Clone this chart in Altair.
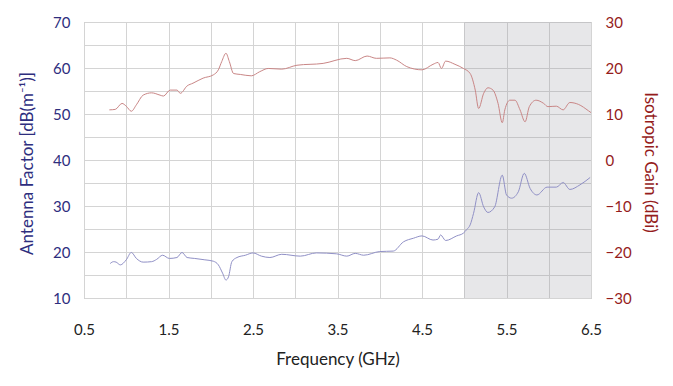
import altair as alt
import pandas as pd

# Antenna factor (left axis, dB(m^-1))
af_freq = [0.81, 0.85, 0.88, 0.93, 1.00, 1.06, 1.12, 1.20, 1.30, 1.36, 1.43, 1.51, 1.60, 1.66,
           1.72, 1.81, 1.93, 2.03, 2.09, 2.14, 2.18, 2.21, 2.25, 2.31, 2.41, 2.50, 2.60, 2.70,
           2.84, 3.06, 3.25, 3.49, 3.61, 3.71, 3.81, 4.00, 4.16, 4.28, 4.40, 4.50, 4.63, 4.69,
           4.72, 4.78, 4.91, 4.99, 5.03, 5.07, 5.11, 5.17, 5.23, 5.28, 5.36, 5.45, 5.50, 5.56,
           5.64, 5.71, 5.78, 5.86, 5.98, 6.09, 6.17, 6.25, 6.37, 6.49]
af_val = [17.5, 17.9, 17.8, 17.2, 18.3, 19.9, 18.6, 17.8, 17.9, 18.4, 19.3, 18.6, 18.8, 19.9,
          18.8, 18.6, 18.3, 18.0, 17.2, 15.4, 13.9, 14.6, 17.9, 18.8, 19.3, 19.8, 19.1, 18.8,
          19.5, 19.1, 19.8, 19.6, 19.1, 19.7, 19.3, 20.1, 20.2, 22.2, 23.0, 23.5, 22.6, 22.8,
          23.7, 22.5, 23.5, 24.1, 24.9, 25.9, 28.4, 32.9, 29.8, 28.6, 29.8, 36.7, 32.4, 31.7,
          33.1, 37.1, 33.8, 32.4, 34.1, 34.1, 35.1, 33.6, 34.6, 36.2]

# Isotropic gain (right axis, dBi)
gain_freq = [0.80, 0.87, 0.95, 1.00, 1.06, 1.12, 1.20, 1.30, 1.40, 1.44, 1.52, 1.60, 1.64,
             1.72, 1.79, 1.91, 2.03, 2.09, 2.13, 2.18, 2.22, 2.27, 2.35, 2.48, 2.58, 2.68,
             2.84, 3.02, 3.33, 3.61, 3.71, 3.85, 3.96, 4.12, 4.20, 4.32, 4.50, 4.63, 4.69,
             4.73, 4.78, 4.89, 4.99, 5.07, 5.13, 5.17, 5.23, 5.28, 5.34, 5.40, 5.45, 5.48,
             5.54, 5.60, 5.66, 5.72, 5.77, 5.85, 5.94, 5.99, 6.09, 6.17, 6.25, 6.35, 6.47, 6.50]
gain_val = [10.9, 11.0, 12.3, 11.7, 10.6, 12.0, 14.1, 14.6, 14.1, 13.9, 15.2, 15.2, 14.5,
            16.1, 16.7, 17.8, 18.5, 19.6, 21.4, 23.2, 21.4, 18.8, 18.6, 18.3, 19.2, 19.9,
            19.75, 20.6, 21.0, 22.1, 21.6, 22.6, 22.1, 22.2, 21.7, 20.3, 19.6, 20.8, 21.2,
            19.9, 21.5, 20.8, 19.9, 18.8, 15.2, 11.2, 14.5, 15.7, 15.2, 12.3, 8.1, 10.9,
            13.0, 13.0, 10.9, 8.3, 11.6, 13.0, 12.3, 11.6, 11.7, 10.9, 12.5, 12.1, 10.7, 10.3]

shade_start = [5.0]
shade_end = [6.5]

x_ticks = [0.5, 1.0, 1.5, 2.0, 2.5, 3.0, 3.5, 4.0, 4.5, 5.0, 5.5, 6.0, 6.5]
af_ticks = [10, 15, 20, 25, 30, 35, 40, 45, 50, 55, 60, 65, 70]
gain_ticks = [-30, -20, -10, 0, 10, 20, 30]

FONT = "Lato"
NAVY = "#2e2e7e"
DARKRED = "#951c1c"

af_df = pd.DataFrame({"f": af_freq, "v": af_val})
gain_df = pd.DataFrame({"f": gain_freq, "v": gain_val})
shade_df = pd.DataFrame({"x0": shade_start, "x1": shade_end})

x_scale = alt.Scale(domain=[0.5, 6.5], nice=False, zero=False)
x_axis = alt.Axis(
    values=x_ticks,
    labelExpr="(round(datum.value*2) % 2 == 1) ? format(datum.value, '.1f') : ''",
    title="Frequency (GHz)",
    grid=True, gridColor="#d4d4d4", gridWidth=1,
    ticks=False, domain=False,
    labelFont=FONT, labelFontSize=15, labelColor="#222222", labelPadding=24,
    labelFlush=False,
    titleFont=FONT, titleFontSize=17, titleFontWeight="normal", titleColor="#222222",
    titleY=61, titleBaseline="middle",
)

shade = alt.Chart(shade_df).mark_rect(color="#8c8c98", opacity=0.21).encode(
    x=alt.X("x0:Q", scale=x_scale, axis=x_axis),
    x2="x1:Q",
)

af_line = alt.Chart(af_df).mark_line(color="#9090c6", strokeWidth=1, interpolate="monotone").encode(
    x=alt.X("f:Q", scale=x_scale, axis=x_axis),
    y=alt.Y("v:Q", scale=alt.Scale(domain=[10, 70], nice=False, zero=False),
            axis=alt.Axis(
                orient="left", values=af_ticks,
                labelExpr="datum.value % 10 == 0 ? datum.label : ''",
                title="Antenna Factor [dB(m⁻¹)]",
                grid=True, gridColor="#d4d4d4", gridWidth=1,
                ticks=False, domain=False,
                labelFont=FONT, labelFontSize=15, labelColor=NAVY, labelPadding=14,
                titleFont=FONT, titleFontSize=17, titleFontWeight="normal", titleColor=NAVY,
                titleAngle=-90, titleX=-57, titleY=141, titleAlign="center",
                titleBaseline="middle",
            )),
)

gain_line = alt.Chart(gain_df).mark_line(color="#c98686", strokeWidth=1, interpolate="monotone").encode(
    x=alt.X("f:Q", scale=x_scale, axis=x_axis),
    y=alt.Y("v:Q", scale=alt.Scale(domain=[-30, 30], nice=False, zero=False),
            axis=alt.Axis(
                orient="right", values=gain_ticks,
                title="Isotropic Gain (dBi)",
                grid=False, ticks=False, domain=False,
                labelFont=FONT, labelFontSize=15, labelColor=DARKRED, labelPadding=14,
                titleFont=FONT, titleFontSize=17, titleFontWeight="normal", titleColor=DARKRED,
                titleAngle=90, titleX=58, titleY=140, titleAlign="center",
                titleBaseline="middle",
            )),
)

chart = alt.layer(shade, af_line, gain_line).resolve_scale(y="independent").properties(
    width=507, height=276,
    autosize=alt.AutoSizeParams(type="none"),
    padding={"left": 76, "top": 14, "right": 70, "bottom": 74},
).configure_view(stroke="#b4b4b4", strokeWidth=1)

chart.save("out.html", embed_options={"renderer": "svg", "actions": False})
